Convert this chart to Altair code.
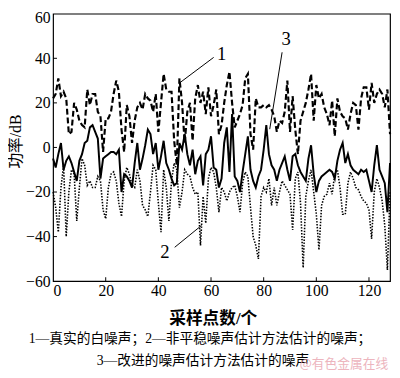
import altair as alt
import pandas as pd

# ---- data ----
x_vals = list(range(0, 129))

series1_dashed = [22, 24, 31, 23, 25, 22, 6, 7, 20, 17, 12, 10, 9, 26, 19, 24, 24, 16, 14, -2,
                  13, 13, 16, 24, 30, 25, 8, -2, 19, 14, 2, 12, 18, 20, 17, 24, 22, 21, 16, 24,
                  7, 20, 33, 26, 25, 25, 3, -8, 31, 20, 2, 16, 20, 3, 22, 28, 20, 25, 15, 27,
                  14, 19, 26, 6, 10, 20, 28, 34, 20, 9, 12, 15, 19, 31, 33, 6, -1, 22, 18, 18,
                  19, 18, 19, 17, 14, 7, 12, 11, 16, 30, 7, 23, 8, -3, 12, 16, 20, 26, 33, 12,
                  28, 22, 24, 18, 15, 10, 21, 5, 22, 16, 14, 13, 8, 15, 20, 19, 8, 22, 27, 27,
                  17, 29, 20, 24, 26, 24, 18, 26, 6]

series2_dotted = [-20, -27, -38, -18, -8, -40, -20, -10, -12, -33, -18, -5, -8, -17, -15, -18, -18, -13, -15, -28,
                  -32, -18, -12, -11, -15, -25, -31, -15, -9, -12, -17, -18, -10, -15, -26, -28, -31, -20, -8, -10,
                  -25, -38, -10, -18, -33, -15, -7, -10, -27, -20, -10, -12, -13, -18, -21, -20, -44, -22, -34, -14,
                  -9, -11, -18, -29, -18, -20, -24, -20, -18, -17, -22, -29, -16, -11, -13, -27, -40, -44, -50, -22,
                  -18, -20, -14, -26, -18, -26, -20, -15, -17, -19, -21, -37, -14, -11, -25, -54, -22, -15, -10, -20,
                  -30, -46, -26, -22, -21, -16, -21, -12, -10, -18, -30, -30, -16, -11, -14, -18, -19, -22, -24, -25,
                  -28, -41, -20, -14, -18, -24, -35, -55, -20]

series3_solid = [-5, -9, -3, 2, -10, -6, -4, -7, -11, -15, -6, -3, 2, 3, 9, 10, 7, 4, -14, -5,
                 -4, -3, -2, -2, -3, -1, -20, -12, -13, -15, -18, -7, 2, -10, -5, 1, 8, 6, -3, 2,
                 -10, -4, 3, -7, -10, -14, -17, -16, 2, -1, 6, -3, -8, -1, -12, -6, -4, -17, -3, -1,
                 5, -9, -10, -18, -14, 2, 9, -11, 15, -13, -15, -20, -11, -3, 5, -10, -15, -18, -13, -10,
                 -1, 10, -3, -8, -10, -15, -10, -7, -4, -10, -15, -4, -3, -8, -11, -13, -15, -5, 1, -12,
                 -20, -15, -13, -12, -11, -10, -11, -14, -6, -1, 2, -7, -3, -8, -10, -11, -12, -10, -11, -10,
                 -15, -20, -8, 1, -10, -13, -16, -29, -7]

x_ticks = [0, 20, 40, 60, 80, 100, 120]
y_ticks = [-60, -40, -20, 0, 20, 40, 60]

label_text = ["1", "2", "3"]
label_x = [64, 42.5, 88.5]
label_y = [42, -47, 48.5]

leader_x1 = [61.0, 46.2, 87.0]
leader_y1 = [40.4, -44.8, 42.7]
leader_x2 = [48.0, 56.4, 82.3]
leader_y2 = [28.9, -35.0, 8.2]

x_title = "采样点数/个"
y_title = "功率/dB"
caption1 = "1—真实的白噪声；2—非平稳噪声估计方法估计的噪声；"
caption2 = "3—改进的噪声估计方法估计的噪声"
watermark = "@有色金属在线"

FONT = "Liberation Serif, Noto Sans CJK SC"

W, H = 344, 273

xs = alt.Scale(domain=[0, 128], nice=False, zero=False)
ys = alt.Scale(domain=[-60, 60], nice=False)

xaxis = alt.Axis(values=x_ticks, title=x_title, ticks=False, domain=False, grid=False,
                 labelFont=FONT, labelFontSize=16, labelColor="black", labelPadding=2,
                 titleFont=FONT, titleFontSize=17, titleFontWeight="bold", titleColor="black",
                 titleX=163, titleY=38, titleBaseline="middle", titleAnchor="middle")
yaxis = alt.Axis(values=y_ticks, title=y_title, ticks=False, domain=False, grid=False,
                 labelFont=FONT, labelFontSize=16, labelColor="black", labelPadding=3,
                 labelOffset={"condition": {"test": "datum.value == 60", "value": 4}, "value": 0},
                 titleFont=FONT, titleFontSize=16, titleFontWeight="normal", titleColor="black",
                 titleAngle=270, titleX=-38, titleY=130, titleBaseline="middle", titleAlign="center")

d1 = pd.DataFrame({"x": x_vals, "y": series1_dashed})
d2 = pd.DataFrame({"x": x_vals, "y": series2_dotted})
d3 = pd.DataFrame({"x": x_vals, "y": series3_solid})

line1 = alt.Chart(d1).mark_line(color="black", strokeWidth=2.2, strokeDash=[6, 3]).encode(
    x=alt.X("x:Q", scale=xs, axis=xaxis),
    y=alt.Y("y:Q", scale=ys, axis=yaxis),
)
line2 = alt.Chart(d2).mark_line(color="black", strokeWidth=1.6, strokeDash=[1.5, 1.5]).encode(
    x=alt.X("x:Q", scale=xs), y=alt.Y("y:Q", scale=ys))
line3 = alt.Chart(d3).mark_line(color="black", strokeWidth=2).encode(
    x=alt.X("x:Q", scale=xs), y=alt.Y("y:Q", scale=ys))

# inward ticks
ytick_df = pd.DataFrame({"v": y_ticks[1:-1]})
xtick_df = pd.DataFrame({"v": x_ticks[1:]})
yticks = alt.Chart(ytick_df).mark_rule(color="black", strokeWidth=1).encode(
    y=alt.Y("v:Q", scale=ys), x=alt.value(0), x2=alt.value(4))
xticks = alt.Chart(xtick_df).mark_rule(color="black", strokeWidth=1).encode(
    x=alt.X("v:Q", scale=xs), y=alt.value(H), y2=alt.value(H - 4))

lead_df = pd.DataFrame({"x1": leader_x1, "y1": leader_y1, "x2": leader_x2, "y2": leader_y2})
leaders = alt.Chart(lead_df).mark_rule(color="black", strokeWidth=1).encode(
    x=alt.X("x1:Q", scale=xs), y=alt.Y("y1:Q", scale=ys), x2="x2:Q", y2="y2:Q")

lab_df = pd.DataFrame({"t": label_text, "x": label_x, "y": label_y})
labels = alt.Chart(lab_df).mark_text(font=FONT, fontSize=19, color="black").encode(
    x=alt.X("x:Q", scale=xs), y=alt.Y("y:Q", scale=ys), text="t:N")

cap1 = alt.Chart(pd.DataFrame({"t": [caption1]})).mark_text(
    font=FONT, fontSize=14, color="black", align="center", baseline="middle").encode(
    x=alt.value(150), y=alt.value(332), text="t:N")
cap2 = alt.Chart(pd.DataFrame({"t": [caption2]})).mark_text(
    font=FONT, fontSize=14, color="black", align="center", baseline="middle").encode(
    x=alt.value(153), y=alt.value(355), text="t:N")
wm = alt.Chart(pd.DataFrame({"t": [watermark]})).mark_text(
    font="Noto Sans CJK SC", fontSize=13, color="#e9a3ae", opacity=0.8, align="center",
    baseline="middle").encode(x=alt.value(297), y=alt.value(358), text="t:N")

chart = alt.layer(line2, line3, line1, yticks, xticks, leaders, labels, cap1, cap2, wm).properties(
    width=W, height=H,
    autosize=alt.AutoSizeParams(type="none"),
    padding={"left": 46, "top": 2, "right": 2, "bottom": 95},
    background="white",
).configure_view(stroke="black", strokeWidth=1.2)

chart.save("out.html", embed_options={"renderer": "svg", "actions": False})
